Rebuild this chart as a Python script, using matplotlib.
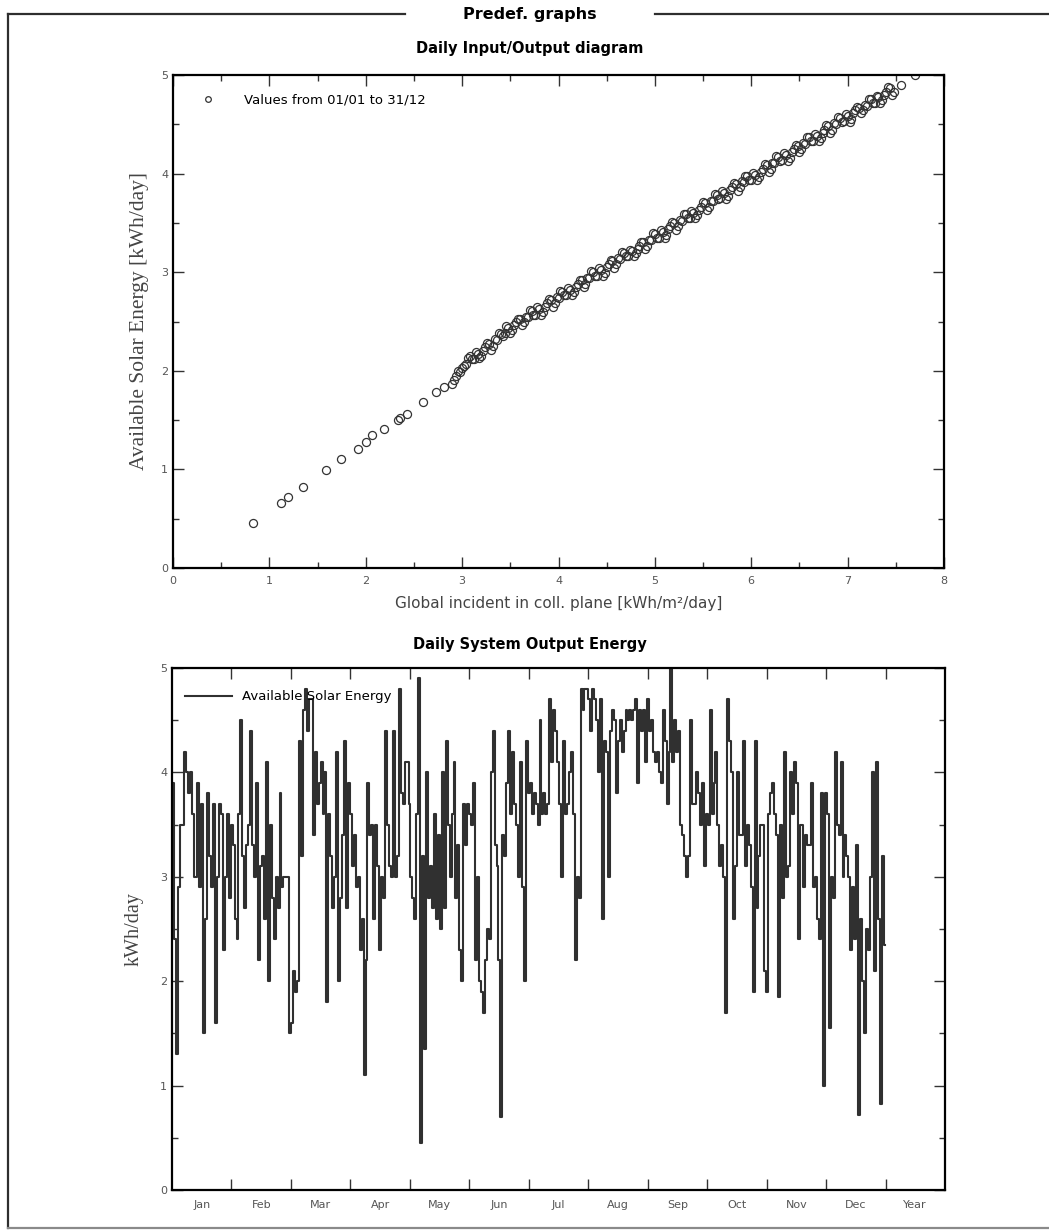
import numpy as np
import matplotlib.pyplot as plt
from matplotlib.lines import Line2D

plt.rcParams['font.family'] = 'DejaVu Sans'

# daily available solar energy [kWh/day]
jan = [3.9, 2.4, 1.3, 2.9, 3.5, 3.5, 4.2, 4.0, 3.8, 4.0, 3.6, 3.0, 3.0, 3.9, 2.9, 3.7,
       1.5, 2.6, 3.8, 3.2, 2.9, 3.7, 1.6, 3.0, 3.7, 3.6, 2.3, 3.0, 3.6, 2.8, 3.5]
feb = [3.3, 2.6, 2.4, 3.6, 4.5, 3.2, 2.7, 3.3, 3.5, 4.4, 3.3, 3.0, 3.9, 2.2, 3.1, 3.2,
       2.6, 4.1, 2.0, 3.5, 2.8, 2.4, 3.0, 2.7, 3.8, 2.9, 3.0, 3.0]
mar = [3.0, 1.5, 1.6, 2.1, 1.9, 2.0, 4.3, 3.2, 4.6, 4.8, 4.4, 4.7, 4.7, 3.4, 4.2, 3.7,
       3.9, 4.1, 3.6, 4.0, 1.8, 3.6, 3.2, 2.7, 3.0, 4.2, 2.0, 2.8, 3.4, 4.3, 2.7]
apr = [3.9, 3.6, 3.1, 3.4, 2.9, 3.0, 2.3, 2.6, 1.1, 2.2, 3.9, 3.4, 3.5, 2.6, 3.5, 3.1,
       2.3, 3.0, 2.8, 4.4, 3.5, 3.1, 3.0, 4.4, 3.0, 3.2, 4.8, 3.8, 3.7, 4.1]
may = [4.1, 3.7, 3.0, 2.8, 2.6, 3.6, 4.9, 0.45, 3.2, 1.35, 4.0, 2.8, 3.1, 2.7, 3.6, 2.6,
       3.4, 2.5, 4.0, 2.7, 4.3, 3.5, 3.0, 3.6, 4.1, 2.8, 3.3, 2.3, 2.0, 3.7, 3.3]
jun = [3.7, 3.6, 3.5, 3.9, 2.2, 3.0, 2.0, 1.9, 1.7, 2.2, 2.5, 2.4, 4.0, 4.4, 3.3, 3.1,
       2.2, 0.7, 3.4, 3.2, 3.9, 4.4, 3.6, 4.2, 3.7, 3.5, 3.0, 4.1, 2.9, 2.0]
jul = [4.3, 3.8, 3.9, 3.6, 3.8, 3.7, 3.5, 4.5, 3.6, 3.8, 3.6, 3.7, 4.7, 4.1, 4.6, 4.4,
       4.1, 3.7, 3.0, 4.3, 3.6, 3.7, 4.0, 4.2, 3.6, 2.2, 3.0, 2.8, 4.8, 4.6, 4.8]
aug = [4.8, 4.7, 4.4, 4.8, 4.7, 4.5, 4.0, 4.7, 2.6, 4.3, 4.2, 3.0, 4.4, 4.6, 4.5, 3.8,
       4.3, 4.5, 4.2, 4.4, 4.6, 4.5, 4.6, 4.5, 4.6, 4.7, 3.9, 4.6, 4.4, 4.6, 4.1]
sep = [4.7, 4.4, 4.5, 4.2, 4.1, 4.2, 4.0, 3.9, 4.6, 4.3, 3.7, 4.2, 5.0, 4.1, 4.5, 4.2,
       4.4, 3.5, 3.4, 3.2, 3.0, 3.2, 4.5, 3.7, 3.7, 4.0, 3.8, 3.5, 3.9, 3.1]
oct_ = [3.6, 3.5, 4.6, 3.6, 3.9, 4.2, 3.5, 3.1, 3.3, 3.0, 1.7, 4.7, 4.3, 4.0, 2.6, 3.1,
        4.0, 3.4, 3.4, 4.3, 3.1, 3.5, 3.3, 2.9, 1.9, 4.3, 2.7, 3.2, 3.5, 3.5, 2.1]
nov = [1.9, 3.6, 3.8, 3.9, 3.6, 3.4, 1.85, 3.5, 2.8, 4.2, 3.0, 3.1, 4.0, 3.6, 4.1, 3.9,
       2.4, 3.5, 3.5, 2.9, 3.4, 3.3, 3.3, 3.9, 2.9, 3.0, 2.6, 2.4, 3.8, 1.0]
dec = [3.8, 3.6, 1.55, 3.0, 2.8, 4.2, 3.5, 3.4, 4.1, 3.0, 3.4, 3.2, 3.0, 2.3, 2.9, 2.4,
       3.3, 0.72, 2.6, 2.0, 1.5, 2.5, 2.3, 3.0, 4.0, 2.1, 4.1, 2.6, 0.82, 3.2, 2.35]
daily = jan + feb + mar + apr + may + jun + jul + aug + sep + oct_ + nov + dec

month_labels = ['Jan', 'Feb', 'Mar', 'Apr', 'May', 'Jun', 'Jul', 'Aug', 'Sep',
                'Oct', 'Nov', 'Dec', 'Year']

# input/output diagram points
incident_low = [0.83, 1.12, 1.19, 1.35, 1.59, 1.74, 1.92, 2.00, 2.07, 2.19, 2.33, 2.36,
                2.43, 2.59, 2.73, 2.81, 2.90, 2.92, 2.94, 7.55, 7.70]
output_low = [0.46, 0.66, 0.72, 0.82, 0.99, 1.11, 1.21, 1.28, 1.35, 1.41, 1.50, 1.52,
              1.56, 1.68, 1.78, 1.84, 1.87, 1.91, 1.95, 4.90, 5.00]

incident_a = [2.96, 3.00, 3.04, 3.08, 3.12, 3.16, 3.20, 3.24, 3.28, 3.32, 3.36, 3.40,
              3.44, 3.48, 3.52, 3.56, 3.60, 3.64, 3.68, 3.72, 3.76, 3.80, 3.84, 3.88,
              3.92, 3.96, 4.00, 4.04, 4.08, 4.12, 4.16, 4.20, 4.24, 4.28, 4.32, 4.36,
              4.40, 4.44, 4.48, 4.52, 4.56, 4.60, 4.64, 4.68, 4.72, 4.76, 4.80, 4.84,
              4.88, 4.92, 4.96, 5.00, 5.04, 5.08, 5.12, 5.16, 5.20, 5.24, 5.28, 5.32,
              5.36, 5.40, 5.44, 5.48, 5.52, 5.56, 5.60, 5.64, 5.68, 5.72, 5.76, 5.80,
              5.84, 5.88, 5.92, 5.96, 6.00, 6.04, 6.08, 6.12, 6.16, 6.20, 6.24, 6.28,
              6.32, 6.36, 6.40, 6.44, 6.48, 6.52, 6.56, 6.60, 6.64, 6.68, 6.72, 6.76,
              6.80, 6.84, 6.88, 6.92, 6.96, 7.00, 7.04, 7.08, 7.12, 7.16, 7.20, 7.24,
              7.28, 7.32, 7.36, 7.40, 7.44, 7.48]
output_a = [2.00, 2.03, 2.07, 2.15, 2.12, 2.17, 2.15, 2.24, 2.27, 2.25, 2.31, 2.37,
            2.38, 2.43, 2.41, 2.49, 2.53, 2.49, 2.55, 2.61, 2.57, 2.63, 2.60, 2.69,
            2.72, 2.69, 2.74, 2.80, 2.77, 2.82, 2.80, 2.88, 2.92, 2.88, 2.94, 3.00,
            2.96, 3.02, 2.99, 3.08, 3.11, 3.08, 3.13, 3.19, 3.16, 3.21, 3.19, 3.27,
            3.31, 3.27, 3.33, 3.39, 3.35, 3.41, 3.38, 3.47, 3.50, 3.47, 3.52, 3.59,
            3.55, 3.60, 3.58, 3.66, 3.70, 3.66, 3.72, 3.78, 3.75, 3.80, 3.77, 3.86,
            3.89, 3.86, 3.91, 3.98, 3.94, 3.99, 3.97, 4.05, 4.09, 4.05, 4.11, 4.17,
            4.14, 4.19, 4.16, 4.25, 4.28, 4.25, 4.30, 4.37, 4.33, 4.38, 4.36, 4.44,
            4.48, 4.44, 4.50, 4.56, 4.53, 4.58, 4.55, 4.64, 4.67, 4.64, 4.69, 4.76,
            4.72, 4.78, 4.75, 4.83, 4.87, 4.83]

incident_b = [2.98, 3.02, 3.06, 3.10, 3.14, 3.18, 3.22, 3.26, 3.30, 3.34, 3.38, 3.42,
              3.46, 3.50, 3.54, 3.58, 3.62, 3.66, 3.70, 3.74, 3.78, 3.82, 3.86, 3.90,
              3.94, 3.98, 4.02, 4.06, 4.10, 4.14, 4.18, 4.22, 4.26, 4.30, 4.34, 4.38,
              4.42, 4.46, 4.50, 4.54, 4.58, 4.62, 4.66, 4.70, 4.74, 4.78, 4.82, 4.86,
              4.90, 4.94, 4.98, 5.02, 5.06, 5.10, 5.14, 5.18, 5.22, 5.26, 5.30, 5.34,
              5.38, 5.42, 5.46, 5.50, 5.54, 5.58, 5.62, 5.66, 5.70, 5.74, 5.78, 5.82,
              5.86, 5.90, 5.94, 5.98, 6.02, 6.06, 6.10, 6.14, 6.18, 6.22, 6.26, 6.30,
              6.34, 6.38, 6.42, 6.46, 6.50, 6.54, 6.58, 6.62, 6.66, 6.70, 6.74, 6.78,
              6.82, 6.86, 6.90, 6.94, 6.98, 7.02, 7.06, 7.10, 7.14, 7.18, 7.22, 7.26,
              7.30, 7.34, 7.38, 7.42, 7.46]
output_b = [1.99, 2.05, 2.13, 2.12, 2.19, 2.13, 2.20, 2.28, 2.21, 2.32, 2.38, 2.35,
            2.45, 2.38, 2.46, 2.53, 2.46, 2.55, 2.62, 2.57, 2.65, 2.57, 2.65, 2.73,
            2.65, 2.75, 2.81, 2.77, 2.84, 2.77, 2.85, 2.92, 2.85, 2.94, 3.01, 2.96,
            3.04, 2.96, 3.05, 3.12, 3.04, 3.14, 3.20, 3.16, 3.23, 3.16, 3.24, 3.31,
            3.24, 3.33, 3.40, 3.35, 3.43, 3.35, 3.44, 3.51, 3.43, 3.53, 3.59, 3.55,
            3.62, 3.55, 3.63, 3.71, 3.63, 3.72, 3.79, 3.74, 3.82, 3.74, 3.83, 3.90,
            3.82, 3.92, 3.98, 3.94, 4.01, 3.94, 4.02, 4.10, 4.02, 4.11, 4.18, 4.13,
            4.21, 4.13, 4.22, 4.29, 4.22, 4.31, 4.37, 4.33, 4.40, 4.33, 4.41, 4.49,
            4.41, 4.51, 4.57, 4.52, 4.60, 4.52, 4.61, 4.68, 4.61, 4.70, 4.76, 4.72,
            4.79, 4.72, 4.80, 4.88, 4.80]

W, H = 1049, 1232
fig = plt.figure(figsize=(W / 100, H / 100), dpi=100)

# page frame with the section header
frame = dict(color='#2e2e2e', lw=1.6, transform=fig.transFigure)
fig.add_artist(Line2D([8 / W, 405 / W], [1 - 14 / H] * 2, **frame))
fig.add_artist(Line2D([655 / W, 1.0], [1 - 14 / H] * 2, **frame))
fig.add_artist(Line2D([8 / W, 8 / W], [1 - 14 / H, 1 - 1228 / H], **frame))
fig.add_artist(Line2D([8 / W, 1.0], [1 - 1228 / H] * 2, color='#8a8a8a', lw=1.6,
                      transform=fig.transFigure))
fig.text(530 / W, 1 - 14 / H, 'Predef. graphs', ha='center', va='center',
         fontsize=11.5, weight='bold')


def style_axes(ax):
    for sp in ax.spines.values():
        sp.set_linewidth(1.6)
    ax.tick_params(which='both', direction='in', top=True, right=True,
                   labelsize=8, colors='#333333', labelcolor='#555555')
    ax.tick_params(which='major', length=8, width=1)
    ax.tick_params(which='minor', length=4, width=1)


# upper graph: input/output diagram
ax1 = fig.add_axes([173 / W, 1 - 568 / H, 771 / W, 493 / H])
ax1.plot(incident_low + incident_a + incident_b, output_low + output_a + output_b,
         'o', mfc='none', mec='#333333', ms=5.8, mew=0.9,
         label='Values from 01/01 to 31/12')
ax1.set_xlim(0, 8)
ax1.set_ylim(0, 5)
ax1.set_xticks(range(9))
ax1.set_xticks(np.arange(0.5, 8, 1), minor=True)
ax1.set_yticks(range(6))
ax1.set_yticks(np.arange(0.5, 5, 1), minor=True)
style_axes(ax1)
ax1.tick_params(axis='x', which='major', pad=6)
ax1.set_xlabel('Global incident in coll. plane [kWh/m²/day]', fontsize=11,
               color='#444444', labelpad=7)
ax1.set_ylabel('Available Solar Energy [kWh/day]', family='Liberation Serif',
               fontsize=15.5, color='#444444', labelpad=9)
ax1.set_title('Daily Input/Output diagram', fontsize=10.5, weight='bold', pad=16,
              x=(530 - 173) / 771)
ax1.legend(loc='upper left', bbox_to_anchor=(22 / 771, 0.962), frameon=False,
           fontsize=9.5, markerscale=0.7, handlelength=2, handletextpad=1.7,
           borderpad=0, borderaxespad=0)

# lower graph: daily system output energy
ax2 = fig.add_axes([172 / W, 1 - 1190 / H, 773 / W, 522 / H])
days = np.arange(len(daily)) + 0.5
ax2.plot(days, daily, color='#303030', lw=1.5, drawstyle='steps-mid',
         label='Available Solar Energy')
month_len = 365 / 12
ax2.set_xlim(0, 13 * month_len)
ax2.set_ylim(0, 5)
ax2.set_xticks(np.arange(1, 13) * month_len)
ax2.set_xticklabels([])
ax2.set_xticks((np.arange(13) + 0.5) * month_len, minor=True)
ax2.set_xticklabels(month_labels, minor=True)
ax2.set_yticks(range(6))
ax2.set_yticks(np.arange(0.5, 5, 1), minor=True)
style_axes(ax2)
ax2.tick_params(axis='x', which='minor', length=0, pad=7)
ax2.tick_params(axis='y', which='minor', length=4)
ax2.set_ylabel('kWh/day', family='Liberation Serif', fontsize=14.5,
               color='#444444', labelpad=12)
ax2.set_title('Daily System Output Energy', fontsize=10.5, weight='bold', pad=14,
              x=(530 - 172) / 773)
ax2.legend(loc='upper left', bbox_to_anchor=(13 / 773, 0.957), frameon=False,
           fontsize=9.5, handlelength=3.6, handletextpad=0.75,
           borderpad=0, borderaxespad=0)

fig.savefig('out.png', dpi=100)
